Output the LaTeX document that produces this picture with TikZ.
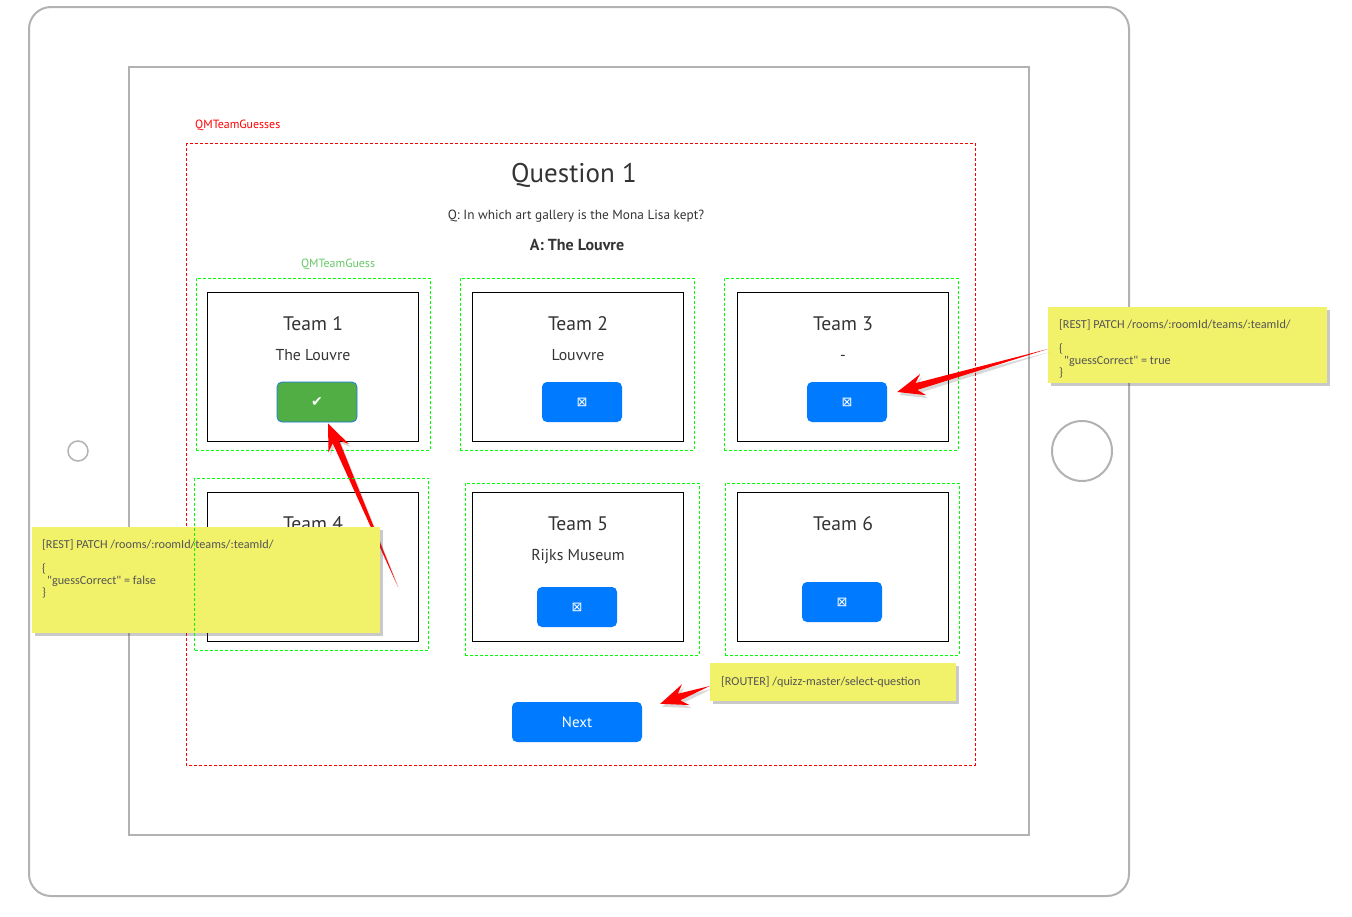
\documentclass[tikz,border=0pt]{standalone}
\usepackage{fontspec}
\setmainfont{PT Sans}
\newfontfamily\notefont{Carlito}
\newfontfamily\symfont{DejaVu Sans}
\usetikzlibrary{calc,shadows,positioning}

\definecolor{frame}{RGB}{178,178,178}
\definecolor{ink}{RGB}{51,51,51}
\definecolor{okgreen}{RGB}{80,174,69}
\definecolor{okborder}{RGB}{30,120,230}
\definecolor{btnblue}{RGB}{0,123,255}
\definecolor{noteyellow}{RGB}{241,241,106}
\definecolor{notetext}{RGB}{85,85,85}
\definecolor{labgreen}{RGB}{102,200,102}

\tikzset{
  tablet/.style={draw=frame, line width=2pt},
  guesses/.style={draw=red, dash pattern=on 3pt off 2pt, line width=0.8pt},
  guessbox/.style={draw=green, dash pattern=on 3pt off 2pt, line width=0.8pt,
    minimum width=234pt, minimum height=172pt, inner sep=0pt},
  teambox/.style={draw=black, line width=1pt, minimum width=211pt,
    minimum height=149pt, inner sep=0pt},
  btn/.style={rounded corners=5pt, fill=btnblue, minimum width=80pt,
    minimum height=40pt, inner sep=0pt, text=white},
  note/.style={fill=noteyellow, inner sep=0pt,
    drop shadow={shadow xshift=3pt, shadow yshift=-3pt, opacity=0.3, fill=black!70}},
  notetxt/.style={anchor=north west, align=left, inner sep=0pt, text=notetext,
    font=\notefont\fontsize{12.2}{12}\selectfont},
  title/.style={anchor=base, text=ink, font=\fontsize{19.6}{22}\selectfont},
  answer/.style={anchor=base, text=ink, font=\fontsize{15.8}{18}\selectfont},
  cross/.style={font=\symfont\fontsize{13}{14}\selectfont},
}

% tapered red pointer from #1 (tail) to #2 (tip)
\newcommand\callout[2]{%
  \coordinate (pl) at ($(#2)!20pt!(#1)!3.5pt!90:(#2)$);
  \coordinate (pr) at ($(#2)!20pt!(#1)!3.5pt!-90:(#2)$);
  \coordinate (bl) at ($(#2)!27pt!(#1)!11pt!90:(#2)$);
  \coordinate (br) at ($(#2)!27pt!(#1)!11pt!-90:(#2)$);
  \fill[black, opacity=0.15, transform canvas={shift={(2pt,-3pt)}}]
    (#1) -- (pl) -- (bl) -- (#2) -- (br) -- (pr) -- cycle;
  \fill[red] (#1) -- (pl) -- (bl) -- (#2) -- (br) -- (pr) -- cycle;}

\begin{document}
\begin{tikzpicture}[x=1pt, y=-1pt]
  \useasboundingbox (0,0) rectangle (1352,916);

  % tablet
  \draw[tablet, rounded corners=22pt] (29,7) rectangle (1129,896);
  \draw[tablet, line width=1.5pt] (129,67) rectangle (1029,835);
  \draw[tablet, line width=1.5pt] (78,451) circle (10);
  \draw[tablet] (1082,451) circle (30);

  % QMTeamGuesses
  \node[anchor=base west, inner sep=0pt, text=red, font=\fontsize{11.9}{13}\selectfont] (lblGuesses) at (195,128) {QMTeamGuesses};
  \draw[guesses] (186,143) rectangle (975,765);
  \node[anchor=base, text=ink, font=\fontsize{27}{30}\selectfont] (question) at (574,182) {Question 1};
  \node[anchor=base, text=ink, font=\fontsize{13.3}{15}\selectfont] (ask) at (576,219) {Q: In which art gallery is the Mona Lisa kept?};
  \node[anchor=base, text=ink, font=\bfseries\fontsize{16}{18}\selectfont] (reply) at (577,250) {A: The Louvre};
  \node[anchor=base, text=labgreen, font=\fontsize{11.9}{13}\selectfont] (lblGuess) at (338,267) {QMTeamGuess};

  % teams, first row
  \node[guessbox] (guessA) at (313,364) {};
  \node[teambox] (teamA) at (312.5,366.5) {};
  \node[title] (titleA) at (313,330) {Team 1};
  \node[answer] (answerA) at (313,360) {The Louvre};
  \node[btn, fill=okgreen, draw=okborder, line width=0.8pt, font=\symfont\fontsize{14}{16}\selectfont] (btnA) at (317,402) {✔};

  \node[guessbox] (guessB) at (577,364) {};
  \node[teambox] (teamB) at (577.5,366.5) {};
  \node[title] (titleB) at (578,330) {Team 2};
  \node[answer] (answerB) at (578,360) {Louvvre};
  \node[btn, cross] (btnB) at (582,402) {⊠};

  \node[guessbox] (guessC) at (841,364) {};
  \node[teambox] (teamC) at (842.5,366.5) {};
  \node[title] (titleC) at (843,330) {Team 3};
  \node[answer] (answerC) at (843,360) {-};
  \node[btn, cross] (btnC) at (847,402) {⊠};

  % teams, second row
  \node[teambox] (teamD) at (312.5,566.5) {};
  \node[title] (titleD) at (313,530) {Team 4};

  \node[guessbox] (guessE) at (582,569) {};
  \node[teambox] (teamE) at (577.5,566.5) {};
  \node[title] (titleE) at (578,530) {Team 5};
  \node[answer] (answerE) at (578,560) {Rijks Museum};
  \node[btn, cross] (btnE) at (577,607) {⊠};

  \node[guessbox] (guessF) at (842,569) {};
  \node[teambox] (teamF) at (842.5,566.5) {};
  \node[title] (titleF) at (843,530) {Team 6};
  \node[btn, cross] (btnF) at (842,602) {⊠};

  \node[btn, minimum width=130pt, font=\fontsize{15}{17}\selectfont] (btnNext) at (577,722) {Next};

  % notes
  \node[note, minimum width=279pt, minimum height=76pt] (restTrue) at (1187.5,345) {};
  \node[notetxt] (restTrueTxt) at (1059,319) {[REST] PATCH /rooms/:roomId/teams/:teamId/\\[12pt]\{\\\hspace{5pt}"guessCorrect" = true\\\}};
  \node[note, minimum width=246pt, minimum height=38pt] (router) at (833,682) {};
  \node[notetxt] (routerTxt) at (721,676) {[ROUTER] /quizz-master/select-question};

  \coordinate (tailA) at (398,587);
  \coordinate (tipA) at ([xshift=11pt, yshift=-1pt]btnA.south);
  \callout{tailA}{tipA}
  \coordinate (tailC) at ([yshift=-4pt]restTrue.west);
  \coordinate (tipC) at ([xshift=10pt, yshift=10pt]btnC.east);
  \callout{tailC}{tipC}
  \coordinate (tailN) at ([yshift=-4pt]router.west);
  \coordinate (tipN) at ([xshift=18pt, yshift=-2pt]btnNext.north east);
  \callout{tailN}{tipN}

  \node[note, minimum width=348pt, minimum height=106pt] (restFalse) at (206,580) {};
  \node[notetxt] (restFalseTxt) at (42,539) {[REST] PATCH /rooms/:roomId/teams/:teamId/\\[12pt]\{\\\hspace{5pt}"guessCorrect" = false\\\}};
  \node[guessbox] (guessD) at (311.5,564) {};
\end{tikzpicture}
\end{document}
